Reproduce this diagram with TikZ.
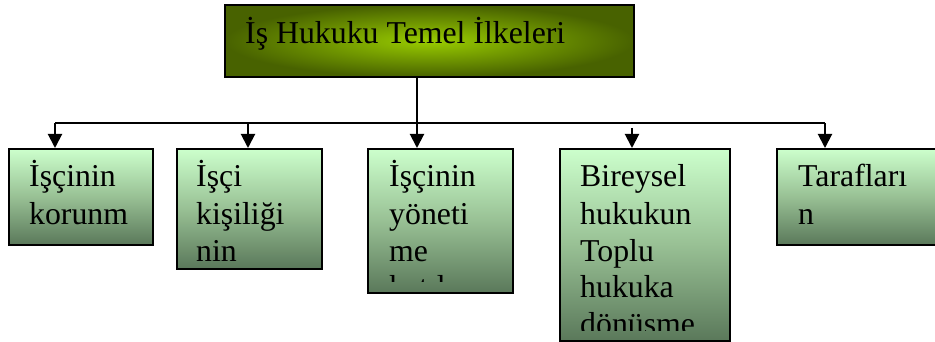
\documentclass[tikz,border=0pt]{standalone}
\usepackage{fontspec}
\setmainfont{Liberation Serif}
\usetikzlibrary{arrows.meta}
\definecolor{boxtop}{RGB}{204,255,204}
\definecolor{boxmid}{RGB}{152,192,148}
\definecolor{boxbot}{RGB}{90,120,90}
\definecolor{headin}{RGB}{153,204,0}
\definecolor{headout}{RGB}{72,98,0}
\begin{document}
\begin{tikzpicture}[x=1pt,y=-1pt,
  stepbox/.style={draw=black, line width=2pt, rectangle, anchor=north west, inner sep=0pt,
    top color=boxtop, bottom color=boxbot, middle color=boxmid},
  headbox/.style={draw=black, line width=2pt, rectangle, anchor=north west, inner sep=0pt,
    inner color=headin, outer color=headout},
  conn/.style={line width=2pt, draw=black},
  arr/.style={conn, -{Triangle[width=14pt,length=14pt]}},
  boxtext/.style={anchor=base west, inner sep=0pt, font=\fontsize{31.8}{37}\selectfont}]
\useasboundingbox (0,0) rectangle (935,342);

% boxes
\node[headbox, minimum width=409pt, minimum height=72pt] (head) at (224,4) {};
\node[stepbox, minimum width=144pt, minimum height=96pt] (b1) at (8,148) {};
\node[stepbox, minimum width=145pt, minimum height=120pt] (b2) at (176,148) {};
\node[stepbox, minimum width=145pt, minimum height=144pt] (b3) at (367,148) {};
\node[stepbox, minimum width=170pt, minimum height=192pt] (b4) at (559,148) {};
\node[stepbox, minimum width=170pt, minimum height=96pt] (b5) at (776,148) {};

% texts
\node[boxtext] (ht) at ([xshift=21pt,yshift=-40pt]head.north west) {İş Hukuku Temel İlkeleri};

\begin{scope}
\clip (b1.north west) rectangle ([yshift=10pt]b1.south east);
\node[boxtext] (t1) at ([xshift=21pt,yshift=-39pt]b1.north west) {\vtop{\hbox{İşçinin}\hbox{korunm}}};
\end{scope}
\begin{scope}
\clip (b2.north west) rectangle ([yshift=10pt]b2.south east);
\node[boxtext] (t2) at ([xshift=20pt,yshift=-39pt]b2.north west) {\vtop{\hbox{İşçi}\hbox{kişiliği}\hbox{nin}}};
\end{scope}
\begin{scope}
\clip (b3.north west) rectangle ([yshift=13pt]b3.south east);
\node[boxtext] (t3) at ([xshift=22pt,yshift=-39pt]b3.north west) {\vtop{\hbox{İşçinin}\hbox{yöneti}\hbox{me}\hbox{katılma}}};
\end{scope}
\begin{scope}
\clip (b4.north west) rectangle ([yshift=12pt]b4.south east);
\node[boxtext] (t4) at ([xshift=21pt,yshift=-39pt]b4.north west) {\vtop{\hbox{Bireysel}\hbox{hukukun}\hbox{Toplu}\hbox{hukuka}\hbox{dönüşme}}};
\end{scope}
\begin{scope}
\clip (b5.north west) rectangle ([yshift=10pt]b5.south east);
\node[boxtext] (t5) at ([xshift=22pt,yshift=-39pt]b5.north west) {\vtop{\hbox{Tarafları}\hbox{n}}};
\end{scope}

% connectors
\coordinate (bus1) at (55,123);
\coordinate (bus2) at (248,123);
\coordinate (bus3) at (417,123);
\coordinate (bus4) at (632,123);
\coordinate (bus5) at (825,123);
\draw[conn] (bus1) -- (bus5);
\draw[arr] (head.south -| bus3) -- (bus3 |- b3.north);
\draw[arr] (bus1) -- (bus1 |- b1.north);
\draw[arr] (bus2) -- (bus2 |- b2.north);
\draw[arr] ([yshift=-5pt]bus4) -- (bus4 |- b4.north);
\draw[arr] (bus5) -- (bus5 |- b5.north);
\end{tikzpicture}
\end{document}
